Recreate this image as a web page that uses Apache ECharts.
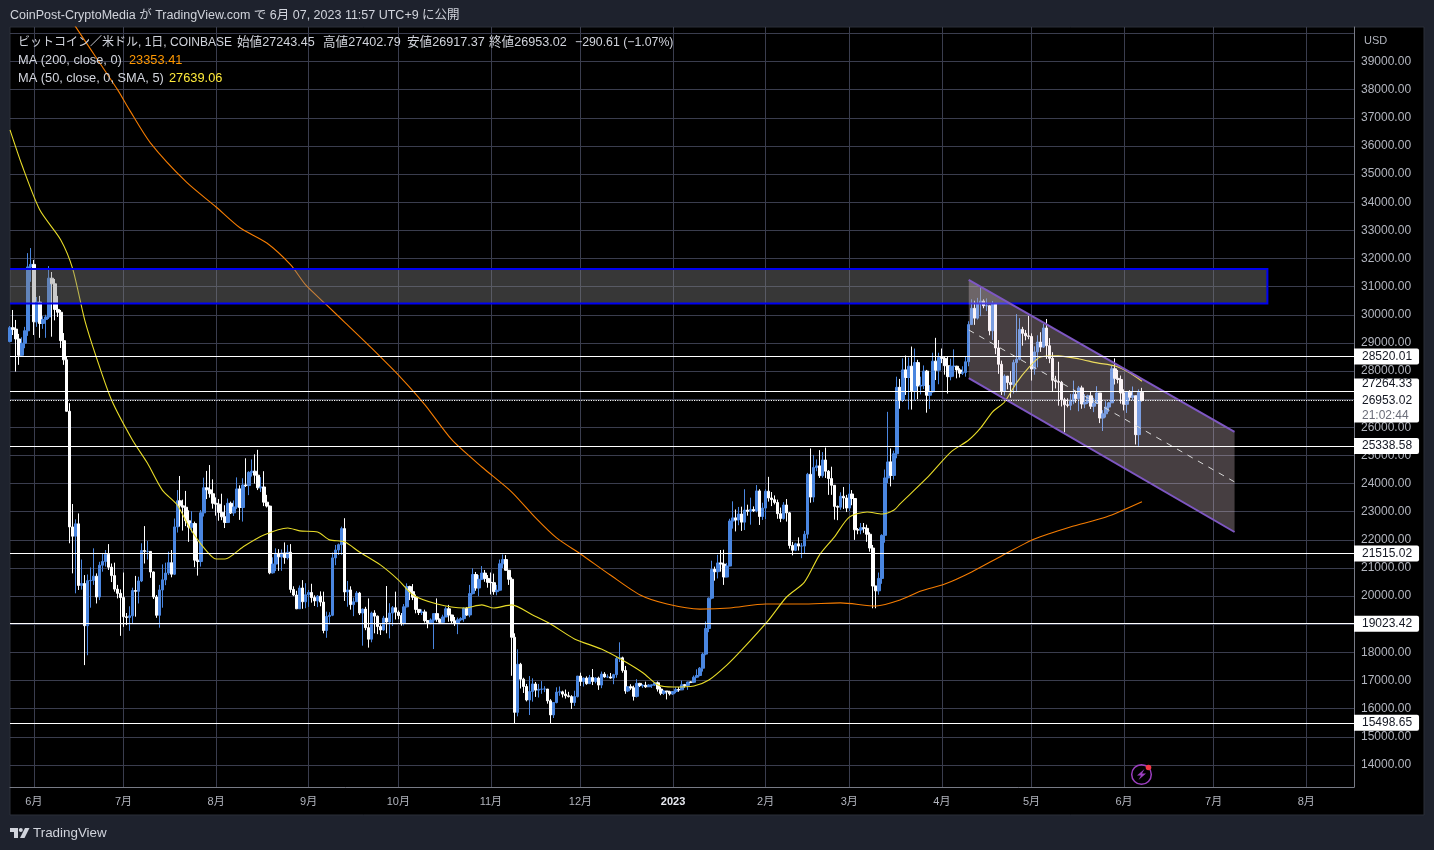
<!DOCTYPE html>
<html><head><meta charset="utf-8"><title>BTCUSD</title>
<style>html,body{margin:0;padding:0;background:#1e222d}#c{width:1434px;height:850px}</style>
<script src="https://cdn.jsdelivr.net/npm/echarts@6/dist/echarts.min.js"></script>
</head><body><div id="c"></div>
<script>
// Daily candles, 2022-05-24 .. 2023-06-07 (grouped by month)
const opens = [
29050,29540,29490,29140,28560,28990,29430,31700,
31790,29750,30450,29690,29830,29920,31300,31100,30190,30090,29080,28400,26570,22460,22130,22570,20380,20450,18950,20550,20560,20710,19970,21100,21230,21490,21030,20730,20250,20100,
19950,19270,19240,19300,20200,20170,20540,21620,21590,21590,20860,19970,19320,20220,20580,20820,21190,20780,22460,23390,23210,23160,22680,22450,22580,21280,21230,22960,23850,23780,23640,
23300,23270,22980,22820,22620,23300,22960,23170,23810,23150,23950,23930,24400,24440,24300,23850,23880,23340,23200,20830,21140,21520,21400,21530,21370,21560,20240,20040,19550,20290,19800,
20050,20130,19950,19830,20000,19790,18780,19280,19320,21360,21640,21830,22400,20150,20220,19700,19800,20110,19400,19540,18880,18470,19400,19290,18920,18800,19220,19080,19400,19590,
19430,19310,19050,19620,20340,20160,19960,19530,19420,19440,19130,19060,19150,19380,19180,19070,19260,19550,19330,19120,19040,19160,19200,19570,19330,20090,20770,20290,20600,20820,20630,
20490,20480,20160,20210,21150,21300,20920,20600,18540,15870,17580,17050,16790,16310,16610,16880,16660,16690,16700,16700,16280,15780,16220,16590,16600,16520,16460,16430,16220,16430,
17160,16970,17090,16890,17110,16970,17090,16840,17230,17130,17130,17090,17210,17780,17810,17360,16630,16780,16740,16440,16900,16820,16830,16780,16840,16840,16920,16700,16550,16630,16600,
16530,16610,16680,16670,16850,16830,16950,16940,17120,17180,17440,17940,18850,19930,20950,20870,21180,21140,20680,21070,22670,22780,22710,22920,22630,23060,23010,23080,23030,23740,22830,
23130,23730,23490,23430,23330,22930,22760,23240,22960,21800,21630,21860,21780,21780,22200,24330,23520,24570,24630,24280,24840,24440,24180,23940,23190,23160,23550,23490,
23130,23630,23470,22360,22350,22430,22410,22200,21710,20360,20190,20630,22160,24200,24770,24290,25060,27420,26970,28040,27770,28170,27300,28300,27470,27490,28000,27140,27260,28350,28030,
28480,28450,28190,27800,28170,28170,28040,27920,27950,28330,29650,30230,29880,30390,30490,30320,30320,29430,30400,28820,28240,27270,27820,27590,27520,28300,28420,29480,29340,29250,
29230,28070,28680,29030,28850,29530,28900,28450,27670,27630,27600,26980,26800,26780,26930,27170,27030,27400,26830,26890,27120,26750,26850,27220,26330,26480,26720,26870,28080,27740,27700,
27220,26820,27250,27070,27120,25740,27243.45];
const closes = [
29540,29480,29140,28560,28990,29430,31700,31790,
29750,30450,29690,29830,29920,31300,31100,30190,30090,29080,28400,26570,22460,22130,22570,20380,20450,18950,20550,20560,20710,19970,21100,21230,21490,21030,20730,20250,20100,19950,
19270,19240,19300,20200,20170,20540,21620,21590,21590,20860,19970,19320,20220,20580,20820,21190,20780,22460,23390,23210,23160,22680,22450,22580,21280,21230,22960,23850,23780,23640,23300,
23270,22980,22820,22620,23300,22960,23170,23810,23150,23950,23930,24400,24440,24300,23850,23880,23340,23200,20830,21140,21520,21400,21530,21370,21560,20240,20040,19550,20290,19800,20050,
20130,19950,19830,20000,19790,18780,19280,19320,21360,21640,21830,22400,20150,20220,19700,19800,20110,19400,19540,18880,18470,19400,19290,18920,18800,19220,19080,19400,19590,19430,
19310,19050,19620,20340,20160,19960,19530,19420,19440,19130,19060,19150,19380,19180,19070,19260,19550,19330,19120,19040,19160,19200,19570,19330,20090,20770,20290,20600,20820,20630,20490,
20480,20160,20210,21150,21300,20920,20600,18540,15870,17580,17050,16790,16310,16610,16880,16660,16690,16700,16700,16280,15780,16220,16590,16600,16520,16460,16430,16220,16430,17160,
16970,17090,16890,17110,16970,17090,16840,17230,17130,17130,17090,17210,17780,17810,17360,16630,16780,16740,16440,16900,16820,16830,16780,16840,16840,16920,16700,16550,16630,16600,16530,
16610,16680,16670,16850,16830,16950,16940,17120,17180,17440,17940,18850,19930,20950,20870,21180,21140,20680,21070,22670,22780,22710,22920,22630,23060,23010,23080,23030,23740,22830,23130,
23730,23490,23430,23330,22930,22760,23240,22960,21800,21630,21860,21780,21780,22200,24330,23520,24570,24630,24280,24840,24440,24180,23940,23190,23160,23550,23490,23130,
23630,23470,22360,22350,22430,22410,22200,21710,20360,20190,20630,22160,24200,24770,24290,25060,27420,26970,28040,27770,28170,27300,28300,27470,27490,28000,27140,27260,28350,28030,28480,
28450,28190,27800,28170,28170,28040,27920,27950,28330,29650,30230,29880,30390,30490,30320,30320,29430,30400,28820,28240,27270,27820,27590,27520,28300,28420,29480,29340,29250,29230,
28070,28680,29030,28850,29530,28900,28450,27670,27630,27600,26980,26800,26780,26930,27170,27030,27400,26830,26890,27120,26750,26850,27220,26330,26480,26720,26870,28080,27740,27700,27220,
26820,27250,27070,27120,25740,27240,26953.02];
const lows = [
29020,29280,27980,28220,28530,28810,29250,31170,
29280,29570,29180,29500,29180,29850,29220,29800,29920,28820,28220,26560,21880,20810,20100,20220,20230,17550,17900,19590,20400,19740,19860,20870,21050,20930,20500,20160,19920,18590,
18910,18970,18770,19010,19270,19740,20500,21160,21300,20650,19900,19230,18880,19590,20390,20750,20670,20750,22260,22470,22330,22490,21930,22260,21030,20730,21050,22830,23450,23500,23110,
22860,22680,22700,22420,22600,22920,22850,23100,22710,22650,23880,23590,24250,24000,23770,23700,23200,23150,20780,20800,20890,20900,20900,21150,21300,20120,20000,19540,19550,19550,19570,
19620,19770,19650,19610,19640,18680,18520,19000,19290,21100,21460,21470,19830,19625,19520,19290,19800,19330,18240,18790,18170,18360,18680,18650,18620,18770,18680,18500,18940,19170,
19180,18950,18960,19600,19860,19860,19390,19330,19330,19060,18860,19000,18120,19090,19020,19010,19260,19090,19030,18940,18650,19110,19090,19300,19250,20060,20190,20000,20570,20510,20300,
20060,20050,20030,20180,21000,20910,20400,17170,15480,15730,16720,16560,16260,15775,16250,16420,16400,16530,16590,16180,15480,15670,16190,16460,16400,16360,16400,15990,16100,16400,
16810,16790,16850,16890,16840,16900,16670,16730,17100,17090,17070,16870,17100,17660,17280,16530,16590,16670,16290,16400,16770,16740,16740,16790,16740,16810,16610,16480,16490,16330,16470,
16490,16550,16600,16660,16750,16670,16910,16910,17090,17150,17320,17900,18720,19890,20550,20630,20870,20400,20670,21060,22400,22300,22520,22320,22350,22860,22540,22990,22980,22530,22710,
22740,23360,23200,23260,22750,22630,22720,22650,21690,21450,21600,21620,21350,21530,22050,23320,23340,24440,24200,24210,24200,23600,23600,22720,22700,23070,23100,22990,
23030,23230,22000,22200,22200,22250,21930,21580,19570,19570,20050,20440,21900,24020,23900,24140,24900,26660,26900,27150,26630,26630,26950,27000,27170,27360,26520,26650,27230,27680,27530,
28280,27870,27200,27670,27800,27740,27770,27860,27800,28170,29950,29640,29830,29950,30230,30130,29270,29100,28600,27900,27150,27130,27350,27050,27200,27250,28380,28900,29090,29130,
27660,27870,28130,28680,28820,28430,28280,27280,27380,26770,26740,25820,26710,26610,26820,26870,26570,26660,26680,26830,26650,26540,26830,26150,25870,26350,26550,26870,27520,27560,26840,
26600,26510,26950,26960,25390,25340,26917.37];
const highs = [
29600,30170,29815,29320,29200,29570,32190,32370,
31950,30630,30670,29950,30000,31730,31520,31270,30670,30170,29350,28500,26860,23275,22730,22940,21300,20750,20770,21020,21700,20810,21220,21520,21640,21850,21160,21190,20400,20240,
20840,19400,19640,20300,20720,20690,21880,22490,21960,21600,20880,20040,20400,21130,21190,21580,21640,22760,23770,24270,23430,23740,23050,23020,22650,21950,23060,24210,24450,24660,24150,
23510,23450,23640,23230,23470,23360,23400,24220,23940,24190,24900,24440,24860,25040,25200,24230,24440,23600,23220,21380,21700,21670,21660,21910,21820,21850,20350,20190,20380,20570,20460,
20220,20440,20030,20040,20170,20160,19450,19430,21550,21820,21870,22470,22770,20540,20350,19950,20180,20150,19560,19620,19920,19450,19500,19310,19000,19300,20360,19750,19650,20160,
19490,19400,19720,20455,20370,20430,20060,19540,19530,19520,19150,19210,19380,19920,19210,19340,19630,19690,19340,19260,19240,19250,19600,19610,20400,20990,20860,20750,21070,20930,20750,
20840,20800,20400,21300,21480,21460,20670,20670,18680,18110,17630,17100,16880,17160,17080,16950,16880,16980,16800,16680,16340,16220,16760,16790,16640,16680,16600,16480,16640,17160,
17280,17110,17150,17200,17410,17120,17140,17320,17300,17220,17270,17240,17850,18360,17850,17520,16800,16870,16820,17050,16920,16870,16960,16870,16860,16940,16970,16780,16670,16630,16640,
16630,16760,16770,17000,16880,16960,16970,17180,17400,17480,17990,19100,19950,21260,21050,21470,21640,21650,21180,22750,23370,23080,23170,23180,23800,23250,23500,23190,23950,23800,23320,
23800,24240,23700,23580,23430,23150,23340,23450,22990,21930,21900,22090,21890,22320,24380,25250,25020,24860,25190,25120,25280,24480,24600,23870,23220,23690,23880,23600,
24000,23770,23480,22420,22600,22600,22540,22270,21820,20370,20840,22200,24500,26550,25250,25170,27800,27720,28450,28550,28480,28870,28800,28400,27800,28200,28040,27500,28650,29180,28650,
28800,28530,28500,28440,28770,28190,28100,28170,28530,29770,30550,30500,30600,31000,30550,30580,30310,30490,30400,29100,28370,27880,27820,28000,28400,30020,29880,29570,29460,29960,
29340,28880,29270,29380,29670,29850,29170,28670,27830,28330,27650,27050,27030,27190,27660,27290,27470,27480,27180,27160,27270,27050,27460,27210,26610,26930,26890,28190,28450,28040,27840,
27350,27290,27320,27450,27130,27350,27402.79];

// Moving averages: [day index from 2022-05-24, value]
const ma200 = [[20,40600],[22,40230],[36,38000],[40,37280],[47,36110],[59,34720],[69,33830],[77,33090],[86,32550],[94,31770],[99,31060],[106,30350],[112,29740],[121,28820],[131,27750],[139,26790],[148,25550],[158,24590],[168,23700],[176,22780],[183,22070],[191,21500],[201,20750],[211,20040],[220,19720],[231,19540],[241,19580],[253,19720],[265,19720],[278,19760],[290,19650],[298,19860],[305,20180],[313,20430],[322,20860],[332,21430],[343,22030],[355,22460],[367,22810],[379,23353.41]];
const ma50 = [[0,36570],[4,35320],[10,33720],[17,32660],[21,31630],[25,29820],[29,28460],[34,26970],[41,25550],[46,24730],[51,23770],[56,23240],[60,22460],[65,21710],[69,21320],[72,21320],[78,21750],[85,22170],[93,22420],[97,22320],[103,22280],[107,22000],[112,21930],[117,21570],[124,21110],[130,20580],[135,20040],[143,19720],[152,19580],[158,19690],[162,19580],[168,19690],[175,19330],[181,19010],[189,18480],[198,18120],[205,17730],[212,17270],[217,16840],[222,16770],[229,16810],[234,17020],[240,17550],[245,18090],[254,19150],[260,19970],[266,20500],[271,21460],[276,22100],[281,22810],[287,22990],[292,22920],[296,23060],[298,23280],[307,24200],[315,25120],[321,25550],[325,25980],[329,26550],[333,26900],[337,27580],[341,28110],[345,28500],[351,28540],[358,28430],[364,28290],[370,28180],[375,27930],[379,27639.06]];

// Horizontal price levels and last price
const priceLevels = [28520.01, 25338.58, 21515.02, 19023.42, 15498.65];
const upperLevel = 27264.33;
const lastPrice = 26953.02;
const lastCountdown = '21:02:44';

// Resistance zone and descending channel, in axis values
const zoneLow = 30400, zoneHigh = 31630, zoneEndDay = 421;
const channelDays = [321, 410];
const channelUpper = [31240, 25835];
const channelLower = [27750, 22280];
const channelMid = [29460, 24060];

const yTicks = [14000,15000,16000,17000,18000,19000,20000,21000,22000,23000,24000,25000,26000,27000,28000,29000,30000,31000,32000,33000,34000,35000,36000,37000,38000,39000,40000];
const yLabels = yTicks.slice(0, -1);

const firstDay = Date.UTC(2022, 4, 24), dayCount = 451;
const categories = [];
for (let i = 0; i < dayCount; i++) categories.push(new Date(firstDay + i * 864e5).toISOString().slice(0, 10));
const candles = opens.map((o, i) => [o, closes[i], lows[i], highs[i]]);

const FONT = '"Liberation Sans","Noto Sans CJK JP",sans-serif';
const BLUE = '#4a86e0', WHITE = '#ffffff', GRID = '#3a3d4e', AXIS = '#787b86', TXT = '#d1d4dc', MUTED = '#b2b5be';
const isMonthStart = (i, v) => v.slice(8) === '01';
const txt = (x, y, text, fill, size, extra) => ({ type: 'text', z: 50, silent: true, style: Object.assign({ x, y, text, fill, font: (size || 12) + 'px ' + FONT, verticalAlign: 'middle' }, extra || {}) });

const chart = echarts.init(document.getElementById('c'), null, { renderer: 'canvas' });
const lineLabel = { show: true, position: 'end', distance: 0, color: '#131722', fontSize: 12, fontFamily: FONT, backgroundColor: '#fff', padding: [2, 7, 2, 8], lineHeight: 12, borderRadius: [0, 2, 2, 0], formatter: p => p.value.toFixed(2) };

chart.setOption({
  animation: false,
  backgroundColor: '#1e222d',
  grid: { left: 10, right: 80, top: 27, bottom: 63, containLabel: false },
  xAxis: {
    type: 'category', data: categories, boundaryGap: false,
    axisLine: { show: true, lineStyle: { color: AXIS, width: 1 } }, axisTick: { show: false },
    axisLabel: { interval: isMonthStart, margin: 9, color: MUTED, fontSize: 11, fontFamily: FONT,
      formatter: v => { const m = +v.slice(5, 7); return m === 1 ? '{y|' + v.slice(0, 4) + '}' : m + '月'; },
      rich: { y: { color: '#e6e8ef', fontSize: 11, fontWeight: 'bold', fontFamily: FONT } } },
    splitLine: { show: true, interval: isMonthStart, lineStyle: { color: GRID, width: 1 } }
  },
  yAxis: {
    type: 'value', position: 'right', min: 13218, max: 40226, scale: true,
    axisLine: { show: true, lineStyle: { color: AXIS, width: 1 } },
    axisTick: { show: false, customValues: yTicks },
    axisLabel: { customValues: yLabels, margin: 7, padding: [4, 0, 0, 0], color: MUTED, fontSize: 12, fontFamily: FONT, align: 'left', formatter: v => v.toFixed(2), showMinLabel: true, showMaxLabel: true },
    splitLine: { show: true, lineStyle: { color: GRID, width: 1 } }
  },
  series: [
    { type: 'candlestick', name: 'BTCUSD', data: candles, barWidth: 3, z: 2, clip: true,
      itemStyle: { color: BLUE, borderColor: BLUE, color0: WHITE, borderColor0: WHITE, borderWidth: 1 },
      markLine: { silent: true, symbol: 'none', animation: false, z: 8,
        lineStyle: { color: '#fff', width: 1, type: 'solid' }, label: lineLabel,
        data: [
          { yAxis: lastPrice, lineStyle: { type: 'dotted', width: 1.2, color: '#fff' },
            label: Object.assign({}, lineLabel, { padding: [0, 7, 0, 8], formatter: () => '{t| }\n{a|' + lastPrice.toFixed(2) + '}\n{b|' + lastCountdown + '}',
              rich: { t: { lineHeight: 15, fontSize: 12, color: '#131722', fontFamily: FONT }, a: { lineHeight: 15, fontSize: 12, color: '#131722', fontFamily: FONT }, b: { lineHeight: 14, fontSize: 12, color: '#6a6d78', fontFamily: FONT } } }) },
          { yAxis: upperLevel, label: Object.assign({}, lineLabel, { verticalAlign: 'bottom', backgroundColor: 'rgba(255,255,255,0)' }) }
        ].concat(priceLevels.map(v => ({ yAxis: v })))
      }
    },
    { type: 'line', name: 'MA200', data: ma200, showSymbol: false, symbol: 'none', smooth: 0.25, z: 3, clip: true, lineStyle: { color: '#f57c00', width: 1.1 } },
    { type: 'line', name: 'MA50', data: ma50, showSymbol: false, symbol: 'none', smooth: 0.25, z: 3, clip: true, lineStyle: { color: '#e8dc28', width: 1.1 } },
    { type: 'custom', name: 'Zone', z: 4, clip: true, silent: true, data: [[0, zoneEndDay, zoneLow, zoneHigh]],
      renderItem: (params, api) => {
        const tl = api.coord([api.value(0), api.value(3)]), br = api.coord([api.value(1), api.value(2)]);
        return { type: 'group', children: [
          { type: 'rect', shape: { x: tl[0], y: tl[1], width: br[0] - tl[0], height: br[1] - tl[1] }, style: { fill: 'rgba(130,130,130,0.42)' } },
          { type: 'polyline', shape: { points: [tl, [br[0], tl[1]], br, [tl[0], br[1]]] }, style: { stroke: '#0000f0', lineWidth: 2, fill: 'none' } }
        ] };
      } },
    { type: 'custom', name: 'Channel', z: 5, clip: true, silent: true, data: [[channelDays[0], channelDays[1]]],
      renderItem: (params, api) => {
        const a = channelDays[0], b = channelDays[1];
        const u0 = api.coord([a, channelUpper[0]]), u1 = api.coord([b, channelUpper[1]]);
        const l0 = api.coord([a, channelLower[0]]), l1 = api.coord([b, channelLower[1]]);
        const m0 = api.coord([a, channelMid[0]]), m1 = api.coord([b, channelMid[1]]);
        return { type: 'group', children: [
          { type: 'polygon', shape: { points: [u0, u1, l1, l0] }, style: { fill: 'rgba(240,215,225,0.29)' } },
          { type: 'line', shape: { x1: u0[0], y1: u0[1], x2: u1[0], y2: u1[1] }, style: { stroke: '#7e57c2', lineWidth: 2 } },
          { type: 'line', shape: { x1: l0[0], y1: l0[1], x2: l1[0], y2: l1[1] }, style: { stroke: '#7e57c2', lineWidth: 2 } },
          { type: 'line', shape: { x1: m0[0], y1: m0[1], x2: m1[0], y2: m1[1] }, style: { stroke: '#d8d8d8', lineWidth: 1, lineDash: [6, 6] } }
        ] };
      } }
  ],
  graphic: [
    { type: 'rect', z: -1, silent: true, shape: { x: 10, y: 27, width: 1414, height: 788 }, style: { fill: '#000', stroke: '#2a2e39', lineWidth: 1 } },
    txt(10, 16, 'CoinPost-CryptoMedia が TradingView.com で 6月 07, 2023 11:57 UTC+9 に公開', TXT, 12.5),
    txt(18, 43, 'ビットコイン／米ドル, 1日, COINBASE', TXT, 12),
    txt(237, 43, '始値27243.45', TXT, 12.6),
    txt(323, 43, '高値27402.79', TXT, 12.6),
    txt(407, 43, '安値26917.37', TXT, 12.6),
    txt(489, 43, '終値26953.02', TXT, 12.6),
    txt(575, 43, '−290.61 (−1.07%)', TXT, 12.3),
    txt(18, 60.5, 'MA (200, close, 0)', TXT, 12.8),
    txt(129, 60.5, '23353.41', '#ff9800', 12.8),
    txt(18, 78, 'MA (50, close, 0, SMA, 5)', TXT, 12.8),
    txt(169, 78, '27639.06', '#ffeb3b', 12.8),
    txt(1364, 41, 'USD', MUTED, 11),
    txt(33, 833.5, 'TradingView', TXT, 13.4),
    { type: 'polygon', z: 50, silent: true, shape: { points: [[10, 828], [18, 828], [18, 838], [14, 838], [14, 832], [10, 832]] }, style: { fill: TXT } },
    { type: 'circle', z: 50, silent: true, shape: { cx: 20.8, cy: 830, r: 2 }, style: { fill: TXT } },
    { type: 'polygon', z: 50, silent: true, shape: { points: [[25, 828], [29.5, 828], [24.5, 838], [20, 838]] }, style: { fill: TXT } },
    { type: 'circle', z: 50, silent: true, shape: { cx: 1141.5, cy: 774.5, r: 9.8 }, style: { fill: 'rgba(0,0,0,0)', stroke: '#9c3fc0', lineWidth: 1.5 } },
    { type: 'polygon', z: 50, silent: true, shape: { points: [[1144.5, 769], [1137, 775.5], [1141, 775.5], [1138.5, 780], [1146, 773.5], [1142, 773.5]] }, style: { fill: '#9c3fc0' } },
    { type: 'circle', z: 51, silent: true, shape: { cx: 1148.5, cy: 767.5, r: 2.8 }, style: { fill: '#f23645' } }
  ]
});
</script></body></html>
